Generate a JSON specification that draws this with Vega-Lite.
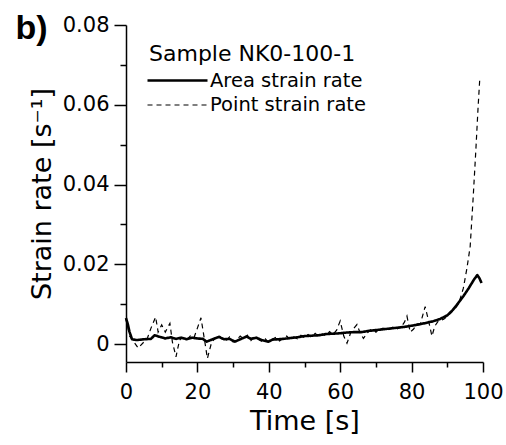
{
  "$schema": "https://vega.github.io/schema/vega-lite/v6.json",
  "autosize": {"type": "none"},
  "width": 357,
  "height": 337,
  "padding": {"left": 126, "top": 25, "right": 23, "bottom": 83},
  "background": "white",
  "config": {
    "view": {"stroke": null},
    "axis": {"domainColor": "black", "tickColor": "black", "labelColor": "black", "titleColor": "black", "grid": false, "domainWidth": 1.5, "tickWidth": 1.5, "labelFont": "DejaVu Sans", "titleFont": "DejaVu Sans", "titleFontWeight": "normal"},
    "legend": {"orient": "none", "legendX": 23, "legendY": 19, "padding": 0, "titleFont": "DejaVu Sans", "titleFontSize": 22, "titleFontWeight": "normal", "titleColor": "black", "titleLimit": 400, "labelFont": "DejaVu Sans", "labelFontSize": 19.5, "labelColor": "black", "symbolType": "M-3,0H3", "symbolSize": 400, "symbolStrokeColor": "black", "symbolFillColor": "transparent", "symbolOffset": 17, "labelOffset": 21, "rowPadding": 4, "titlePadding": 3, "labelLimit": 400}
  },
  "data": {"values": [
    {"t": 0, "v": 0.0065, "s": "Area strain rate"},
    {"t": 0.5, "v": 0.005, "s": "Area strain rate"},
    {"t": 1, "v": 0.003, "s": "Area strain rate"},
    {"t": 1.7, "v": 0.0012, "s": "Area strain rate"},
    {"t": 3, "v": 0.001, "s": "Area strain rate"},
    {"t": 5, "v": 0.0012, "s": "Area strain rate"},
    {"t": 7, "v": 0.0013, "s": "Area strain rate"},
    {"t": 8, "v": 0.0022, "s": "Area strain rate"},
    {"t": 9.5, "v": 0.0018, "s": "Area strain rate"},
    {"t": 11, "v": 0.0014, "s": "Area strain rate"},
    {"t": 12.5, "v": 0.0017, "s": "Area strain rate"},
    {"t": 14, "v": 0.0013, "s": "Area strain rate"},
    {"t": 15.5, "v": 0.0016, "s": "Area strain rate"},
    {"t": 17, "v": 0.0012, "s": "Area strain rate"},
    {"t": 18.5, "v": 0.0016, "s": "Area strain rate"},
    {"t": 20, "v": 0.0014, "s": "Area strain rate"},
    {"t": 21.5, "v": 0.0013, "s": "Area strain rate"},
    {"t": 22.6, "v": 0.0006, "s": "Area strain rate"},
    {"t": 24, "v": 0.0011, "s": "Area strain rate"},
    {"t": 26, "v": 0.0018, "s": "Area strain rate"},
    {"t": 27.5, "v": 0.0012, "s": "Area strain rate"},
    {"t": 29, "v": 0.0013, "s": "Area strain rate"},
    {"t": 30.5, "v": 0.0006, "s": "Area strain rate"},
    {"t": 32, "v": 0.0012, "s": "Area strain rate"},
    {"t": 33.8, "v": 0.0019, "s": "Area strain rate"},
    {"t": 35, "v": 0.0013, "s": "Area strain rate"},
    {"t": 36.5, "v": 0.0016, "s": "Area strain rate"},
    {"t": 38, "v": 0.001, "s": "Area strain rate"},
    {"t": 39.9, "v": 0.0006, "s": "Area strain rate"},
    {"t": 41, "v": 0.0011, "s": "Area strain rate"},
    {"t": 42.6, "v": 0.0012, "s": "Area strain rate"},
    {"t": 44, "v": 0.0013, "s": "Area strain rate"},
    {"t": 46, "v": 0.0015, "s": "Area strain rate"},
    {"t": 48, "v": 0.0017, "s": "Area strain rate"},
    {"t": 50, "v": 0.002, "s": "Area strain rate"},
    {"t": 52, "v": 0.0021, "s": "Area strain rate"},
    {"t": 54, "v": 0.0022, "s": "Area strain rate"},
    {"t": 56, "v": 0.0025, "s": "Area strain rate"},
    {"t": 58, "v": 0.0026, "s": "Area strain rate"},
    {"t": 60, "v": 0.0027, "s": "Area strain rate"},
    {"t": 62, "v": 0.0029, "s": "Area strain rate"},
    {"t": 64, "v": 0.003, "s": "Area strain rate"},
    {"t": 66, "v": 0.003, "s": "Area strain rate"},
    {"t": 68, "v": 0.0033, "s": "Area strain rate"},
    {"t": 70, "v": 0.0035, "s": "Area strain rate"},
    {"t": 72, "v": 0.0037, "s": "Area strain rate"},
    {"t": 74, "v": 0.0039, "s": "Area strain rate"},
    {"t": 76, "v": 0.0041, "s": "Area strain rate"},
    {"t": 78, "v": 0.0043, "s": "Area strain rate"},
    {"t": 80, "v": 0.0046, "s": "Area strain rate"},
    {"t": 82, "v": 0.0049, "s": "Area strain rate"},
    {"t": 84, "v": 0.0053, "s": "Area strain rate"},
    {"t": 86, "v": 0.0057, "s": "Area strain rate"},
    {"t": 88, "v": 0.0063, "s": "Area strain rate"},
    {"t": 90, "v": 0.0072, "s": "Area strain rate"},
    {"t": 91.5, "v": 0.0085, "s": "Area strain rate"},
    {"t": 93, "v": 0.0102, "s": "Area strain rate"},
    {"t": 94.5, "v": 0.012, "s": "Area strain rate"},
    {"t": 96, "v": 0.014, "s": "Area strain rate"},
    {"t": 97.5, "v": 0.0162, "s": "Area strain rate"},
    {"t": 98.4, "v": 0.0173, "s": "Area strain rate"},
    {"t": 99, "v": 0.0165, "s": "Area strain rate"},
    {"t": 99.6, "v": 0.0153, "s": "Area strain rate"},
    {"t": 0, "v": 0.0065, "s": "Point strain rate"},
    {"t": 1, "v": 0.002, "s": "Point strain rate"},
    {"t": 2, "v": 0.0008, "s": "Point strain rate"},
    {"t": 3.4, "v": -0.001, "s": "Point strain rate"},
    {"t": 5, "v": 0.0005, "s": "Point strain rate"},
    {"t": 6, "v": 0.0015, "s": "Point strain rate"},
    {"t": 7, "v": 0.004, "s": "Point strain rate"},
    {"t": 8.3, "v": 0.0068, "s": "Point strain rate"},
    {"t": 9, "v": 0.003, "s": "Point strain rate"},
    {"t": 10, "v": 0.0048, "s": "Point strain rate"},
    {"t": 11, "v": 0.003, "s": "Point strain rate"},
    {"t": 12.3, "v": 0.0052, "s": "Point strain rate"},
    {"t": 13, "v": 0.0005, "s": "Point strain rate"},
    {"t": 14, "v": -0.0032, "s": "Point strain rate"},
    {"t": 15, "v": 0.001, "s": "Point strain rate"},
    {"t": 15.6, "v": 0.0015, "s": "Point strain rate"},
    {"t": 17, "v": 0.001, "s": "Point strain rate"},
    {"t": 18, "v": 0.002, "s": "Point strain rate"},
    {"t": 19, "v": 0.0015, "s": "Point strain rate"},
    {"t": 20, "v": 0.004, "s": "Point strain rate"},
    {"t": 21, "v": 0.0066, "s": "Point strain rate"},
    {"t": 22, "v": 0.001, "s": "Point strain rate"},
    {"t": 22.8, "v": -0.0036, "s": "Point strain rate"},
    {"t": 24, "v": 0.0005, "s": "Point strain rate"},
    {"t": 25, "v": 0.0015, "s": "Point strain rate"},
    {"t": 26, "v": 0.0022, "s": "Point strain rate"},
    {"t": 27, "v": 0.0012, "s": "Point strain rate"},
    {"t": 28, "v": 0.0008, "s": "Point strain rate"},
    {"t": 29, "v": 0.0018, "s": "Point strain rate"},
    {"t": 30, "v": 0.0005, "s": "Point strain rate"},
    {"t": 31, "v": 0.001, "s": "Point strain rate"},
    {"t": 32, "v": 0.002, "s": "Point strain rate"},
    {"t": 33, "v": 0.0013, "s": "Point strain rate"},
    {"t": 34, "v": 0.0022, "s": "Point strain rate"},
    {"t": 35, "v": 0.0009, "s": "Point strain rate"},
    {"t": 36, "v": 0.0018, "s": "Point strain rate"},
    {"t": 37, "v": 0.0012, "s": "Point strain rate"},
    {"t": 38, "v": 0.0007, "s": "Point strain rate"},
    {"t": 39, "v": 0.0013, "s": "Point strain rate"},
    {"t": 40, "v": 0.0004, "s": "Point strain rate"},
    {"t": 41, "v": 0.0012, "s": "Point strain rate"},
    {"t": 42, "v": 0.0017, "s": "Point strain rate"},
    {"t": 43, "v": 0.0008, "s": "Point strain rate"},
    {"t": 44, "v": 0.0014, "s": "Point strain rate"},
    {"t": 45, "v": 0.002, "s": "Point strain rate"},
    {"t": 46, "v": 0.0012, "s": "Point strain rate"},
    {"t": 47, "v": 0.0018, "s": "Point strain rate"},
    {"t": 48, "v": 0.0013, "s": "Point strain rate"},
    {"t": 49, "v": 0.0022, "s": "Point strain rate"},
    {"t": 50, "v": 0.0016, "s": "Point strain rate"},
    {"t": 51, "v": 0.0024, "s": "Point strain rate"},
    {"t": 52, "v": 0.0017, "s": "Point strain rate"},
    {"t": 53, "v": 0.0027, "s": "Point strain rate"},
    {"t": 54, "v": 0.0019, "s": "Point strain rate"},
    {"t": 55, "v": 0.0025, "s": "Point strain rate"},
    {"t": 56, "v": 0.002, "s": "Point strain rate"},
    {"t": 57, "v": 0.0031, "s": "Point strain rate"},
    {"t": 58, "v": 0.0024, "s": "Point strain rate"},
    {"t": 59, "v": 0.0035, "s": "Point strain rate"},
    {"t": 60, "v": 0.0058, "s": "Point strain rate"},
    {"t": 61, "v": 0.002, "s": "Point strain rate"},
    {"t": 61.9, "v": 0.0002, "s": "Point strain rate"},
    {"t": 63, "v": 0.003, "s": "Point strain rate"},
    {"t": 64.7, "v": 0.0049, "s": "Point strain rate"},
    {"t": 65.5, "v": 0.003, "s": "Point strain rate"},
    {"t": 66.5, "v": 0.0014, "s": "Point strain rate"},
    {"t": 68, "v": 0.0032, "s": "Point strain rate"},
    {"t": 69, "v": 0.004, "s": "Point strain rate"},
    {"t": 70, "v": 0.003, "s": "Point strain rate"},
    {"t": 71, "v": 0.0036, "s": "Point strain rate"},
    {"t": 72, "v": 0.004, "s": "Point strain rate"},
    {"t": 73, "v": 0.0034, "s": "Point strain rate"},
    {"t": 74, "v": 0.0038, "s": "Point strain rate"},
    {"t": 75, "v": 0.0045, "s": "Point strain rate"},
    {"t": 76, "v": 0.0038, "s": "Point strain rate"},
    {"t": 77, "v": 0.0042, "s": "Point strain rate"},
    {"t": 78, "v": 0.0055, "s": "Point strain rate"},
    {"t": 78.7, "v": 0.007, "s": "Point strain rate"},
    {"t": 79.6, "v": 0.003, "s": "Point strain rate"},
    {"t": 80.5, "v": 0.0037, "s": "Point strain rate"},
    {"t": 81.5, "v": 0.005, "s": "Point strain rate"},
    {"t": 82.5, "v": 0.0052, "s": "Point strain rate"},
    {"t": 83.8, "v": 0.0094, "s": "Point strain rate"},
    {"t": 84.7, "v": 0.006, "s": "Point strain rate"},
    {"t": 85.7, "v": 0.002, "s": "Point strain rate"},
    {"t": 86.5, "v": 0.0045, "s": "Point strain rate"},
    {"t": 87.5, "v": 0.0058, "s": "Point strain rate"},
    {"t": 89, "v": 0.0062, "s": "Point strain rate"},
    {"t": 90, "v": 0.007, "s": "Point strain rate"},
    {"t": 91.3, "v": 0.0081, "s": "Point strain rate"},
    {"t": 92.3, "v": 0.009, "s": "Point strain rate"},
    {"t": 93.2, "v": 0.0102, "s": "Point strain rate"},
    {"t": 94.5, "v": 0.014, "s": "Point strain rate"},
    {"t": 95.5, "v": 0.019, "s": "Point strain rate"},
    {"t": 96.4, "v": 0.0244, "s": "Point strain rate"},
    {"t": 97.2, "v": 0.036, "s": "Point strain rate"},
    {"t": 98, "v": 0.0487, "s": "Point strain rate"},
    {"t": 98.6, "v": 0.059, "s": "Point strain rate"},
    {"t": 99.1, "v": 0.0666, "s": "Point strain rate"}
  ]},
  "encoding": {
    "x": {"field": "t", "type": "quantitative", "scale": {"domain": [0, 100], "nice": false}},
    "y": {"field": "v", "type": "quantitative", "scale": {"domain": [-0.0045, 0.08], "nice": false, "zero": false}},
    "strokeDash": {"field": "s", "type": "nominal", "scale": {"domain": ["Area strain rate", "Point strain rate"], "range": [[1, 0], [5, 4]]}, "legend": {"title": "Sample NK0-100-1"}},
    "strokeWidth": {"field": "s", "type": "nominal", "scale": {"domain": ["Area strain rate", "Point strain rate"], "range": [2.6, 1.2]}, "legend": {"title": "Sample NK0-100-1"}},
    "color": {"value": "black"}
  },
  "layer": [
    {
      "transform": [{"filter": "datum.s === 'Area strain rate'"}],
      "mark": {"type": "line", "strokeJoin": "round"},
      "encoding": {
        "x": {"field": "t", "type": "quantitative", "axis": {"orient": "bottom", "values": [0, 20, 40, 60, 80, 100], "tickSize": 10, "labelFontSize": 21, "labelPadding": 9, "title": "Time [s]", "titleFontSize": 27, "titlePadding": 6, "labelFlush": false}},
        "y": {"field": "v", "type": "quantitative", "axis": {"orient": "left", "values": [0, 0.02, 0.04, 0.06, 0.08], "format": "~g", "tickSize": 12, "labelFontSize": 21, "labelPadding": 5, "title": "Strain rate [s⁻¹]", "titleFontSize": 27, "titlePadding": 6, "labelFlush": false}}
      }
    },
    {
      "transform": [{"filter": "datum.s === 'Point strain rate'"}],
      "mark": {"type": "line"},
      "encoding": {
        "x": {"field": "t", "type": "quantitative", "axis": {"orient": "bottom", "values": [10, 30, 50, 70, 90], "tickSize": 5, "labels": false, "domain": false, "title": null}},
        "y": {"field": "v", "type": "quantitative", "axis": {"orient": "left", "values": [0.01, 0.03, 0.05, 0.07], "tickSize": 6, "labels": false, "domain": false, "title": "b)", "titleAngle": 0, "titleX": -111, "titleY": 13, "titleAlign": "left", "titleBaseline": "alphabetic", "titleFont": "Liberation Sans", "titleFontSize": 34, "titleFontWeight": "bold"}}
      }
    }
  ],
  "resolve": {"axis": {"x": "independent", "y": "independent"}}
}
